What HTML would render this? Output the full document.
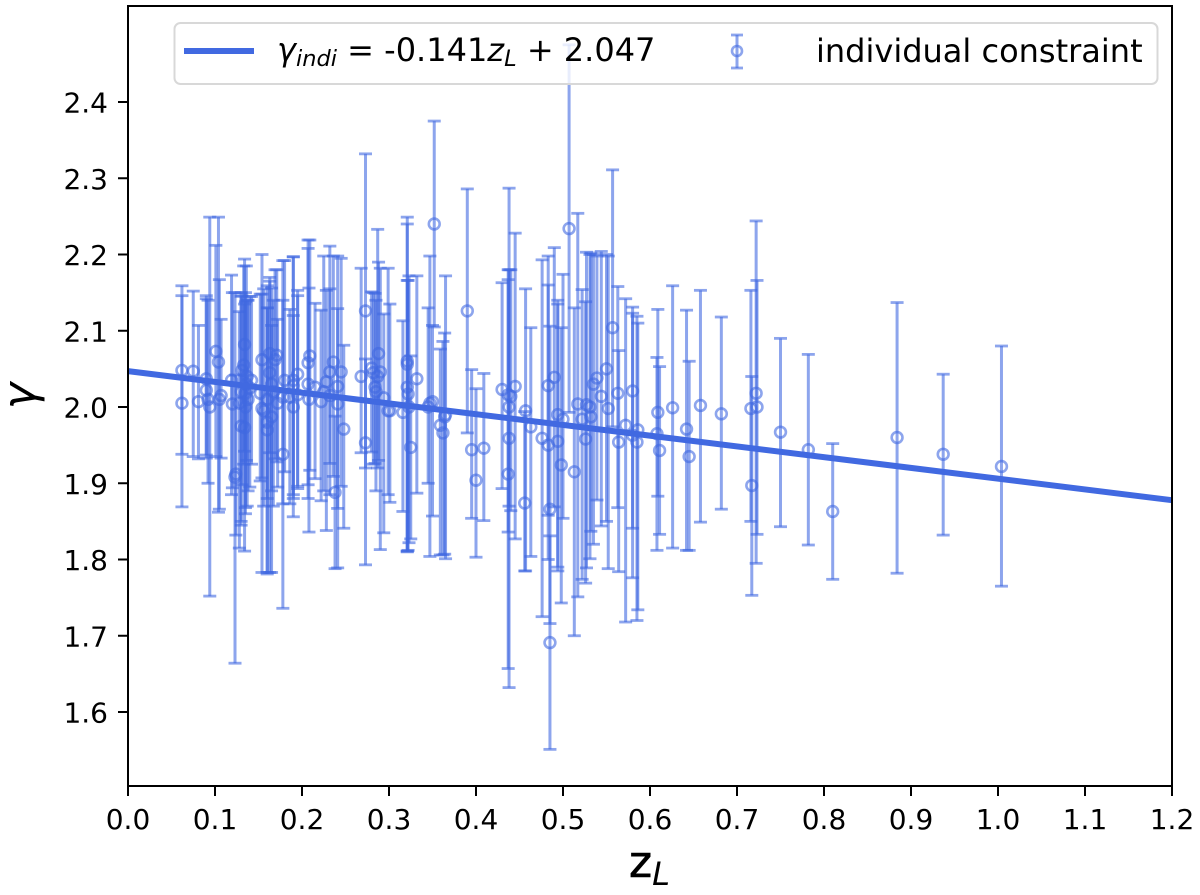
<!DOCTYPE html>
<html lang="en">
<head>
<meta charset="utf-8">
<title>Gamma versus lens redshift</title>
<style>
html,body{margin:0;padding:0;background:#fff;width:1200px;height:895px;overflow:hidden}
svg{display:block;font-family:"DejaVu Sans","Liberation Sans",sans-serif}
</style>
</head>
<body>
<svg id="chart" xmlns="http://www.w3.org/2000/svg" width="1200" height="895" viewBox="0 0 1200 895"></svg>
<script>
const zLens = [
 .062,.062,.075,.081,.090,.090,.092,.094,.101,.104,
 .105,.107,.119,.120,.123,.124,.128,.130,.130,.131,
 .133,.134,.134,.135,.135,.136,.137,.138,.140,.142,
 .152,.154,.154,.156,.160,.160,.160,.163,.163,.165,
 .165,.167,.169,.171,.172,.178,.178,.180,.186,.190,
 .190,.190,.195,.195,.207,.207,.208,.209,.215,.222,
 .225,.228,.232,.232,.236,.238,.241,.241,.245,.248,
 .268,.273,.273,.280,.282,.284,.285,.287,.288,.290,
 .294,.299,.301,.316,.321,.321,.321,.322,.323,.325,
 .332,.345,.347,.350,.352,.359,.362,.364,.365,.390,
 .395,.400,.409,.430,.437,.437,.438,.438,.440,.445,
 .456,.457,.463,.476,.483,.483,.485,.485,.490,.494,
 .494,.498,.500,.507,.513,.517,.522,.526,.527,.531,
 .532,.535,.539,.544,.550,.552,.557,.563,.564,.572,
 .580,.580,.585,.586,.608,.609,.611,.626,.642,.645,
 .658,.682,.716,.717,.722,.723,.750,.782,.810,.884,
 .937,1.004
];
const gammaValues = [
 2.048,2.005,2.047,2.007,2.037,2.022,2.010,2.000,2.073,2.059,
 2.010,2.015,2.035,2.004,1.908,1.912,2.005,2.020,1.975,2.048,
 2.055,2.082,1.973,2.018,2.000,2.030,2.040,2.010,2.025,2.035,
 2.018,2.062,1.998,1.995,1.980,1.970,2.010,2.070,2.045,1.987,
 2.030,2.020,2.062,2.068,2.005,1.938,2.013,2.035,2.013,2.035,
 2.028,2.000,2.043,2.016,2.058,2.030,2.010,2.067,2.026,2.007,
 2.020,2.033,2.046,2.015,2.059,1.888,2.027,2.004,2.046,1.971,
 2.040,2.126,1.953,2.051,2.045,2.026,2.020,2.040,2.070,2.046,
 2.012,1.995,1.995,1.993,2.060,2.056,2.026,2.017,2.000,1.947,
 2.037,2.000,2.005,2.007,2.240,1.976,1.966,1.987,1.990,2.126,
 1.944,1.904,1.946,2.023,1.912,2.016,2.000,1.959,2.014,2.027,
 1.874,1.995,1.974,1.959,2.028,1.950,1.866,1.691,2.039,1.990,
 1.955,1.924,1.984,2.234,1.915,2.004,1.984,1.958,2.003,2.000,
 1.987,2.030,2.038,2.014,2.050,1.998,2.104,2.018,1.954,1.976,
 2.021,1.963,1.954,1.970,1.965,1.993,1.943,1.999,1.971,1.935,
 2.002,1.991,1.998,1.897,2.018,2.000,1.967,1.944,1.863,1.960,
 1.938,1.922
];
const errorMinus = [
 .110,.136,.112,.075,.100,.089,.110,.248,.138,.197,
 .144,.082,.150,.110,.244,.080,.190,.170,.130,.150,
 .130,.140,.162,.150,.140,.100,.170,.120,.130,.110,
 .115,.155,.215,.125,.197,.189,.130,.130,.262,.204,
 .140,.150,.130,.140,.110,.202,.140,.120,.140,.150,
 .172,.120,.150,.120,.160,.150,.174,.150,.120,.130,
 .130,.195,.120,.130,.150,.100,.160,.215,.150,.130,
 .100,.206,.160,.110,.120,.100,.130,.120,.140,.233,
 .177,.110,.120,.130,.250,.245,.215,.205,.178,.120,
 .150,.100,.201,.150,.135,.170,.160,.180,.189,.160,
 .090,.101,.095,.130,.255,.180,.130,.327,.150,.200,
 .089,.210,.170,.234,.170,.150,.150,.140,.170,.200,
 .170,.181,.130,.241,.215,.253,.210,.189,.214,.199,
 .150,.210,.160,.170,.200,.210,.130,.150,.170,.258,
 .180,.187,.234,.236,.153,.110,.110,.184,.159,.123,
 .153,.125,.148,.144,.223,.167,.124,.125,.089,.178,
 .106,.157
];
const errorPlus = [
 .111,.141,.105,.100,.109,.120,.130,.249,.139,.190,
 .157,.100,.138,.146,.242,.130,.120,.130,.170,.098,
 .130,.112,.162,.120,.150,.155,.100,.130,.120,.110,
 .130,.138,.150,.160,.150,.189,.120,.100,.120,.120,
 .126,.120,.118,.112,.110,.202,.179,.157,.115,.162,
 .169,.120,.110,.130,.150,.189,.146,.152,.110,.120,
 .178,.120,.165,.140,.139,.100,.171,.125,.149,.110,
 .142,.206,.110,.100,.105,.123,.120,.193,.120,.136,
 .110,.187,.140,.120,.189,.184,.140,.149,.172,.120,
 .135,.130,.193,.100,.135,.100,.120,.110,.182,.160,
 .105,.120,.098,.140,.255,.164,.180,.328,.166,.201,
 .120,.160,.130,.234,.170,.210,.240,.140,.170,.150,
 .180,.180,.190,.241,.215,.250,.170,.180,.200,.200,
 .215,.170,.160,.190,.150,.200,.207,.140,.120,.166,
 .110,.160,.165,.140,.100,.135,.110,.160,.156,.125,
 .151,.127,.155,.143,.226,.166,.123,.125,.089,.177,
 .105,.158
];
const xTickValues = [0,0.1,0.2,0.3,0.4,0.5,0.6,0.7,0.8,0.9,1.0,1.1,1.2];
const yTickValues = [1.6,1.7,1.8,1.9,2.0,2.1,2.2,2.3,2.4];
const fitSlope = -0.141;
const fitIntercept = 2.047;

const NS = 'http://www.w3.org/2000/svg';
const svg = document.getElementById('chart');
const BLUE = '#4169e1';
const plot = {left:128, right:1172, top:6, bottom:786};
const xScale = z => plot.left + z * (plot.right - plot.left) / 1.2;
const yScale = g => 102 + (2.4 - g) * 762.5;

function make(tag, attrs, parent){
  const el = document.createElementNS(NS, tag);
  for (const k in attrs) el.setAttribute(k, attrs[k]);
  (parent || svg).appendChild(el);
  return el;
}
function lineAttrs(x1,y1,x2,y2,color,w,op){
  return {x1:x1,y1:y1,x2:x2,y2:y2,stroke:color,'stroke-width':w,'stroke-opacity':op===undefined?1:op};
}

const bg = make('rect',{x:plot.left,y:plot.top,width:plot.right-plot.left,height:plot.bottom-plot.top,fill:'#fff'});



const pointLayer = make('g',{});



zLens.forEach((z,i) => {
  const px = xScale(z), g = gammaValues[i];
  const y1 = yScale(g - errorMinus[i]), y2 = yScale(g + errorPlus[i]);
  const group = make('g',{},pointLayer);
  
  
  make('line',lineAttrs(px,y1,px,y2,BLUE,3,.6),group);
  make('line',lineAttrs(px-6.5,y1,px+6.5,y1,BLUE,2.8,.6),group);
  make('line',lineAttrs(px-6.5,y2,px+6.5,y2,BLUE,2.8,.6),group);
  make('circle',{cx:px,cy:yScale(g),r:5.4,fill:'none',stroke:BLUE,'stroke-width':2.6,'stroke-opacity':.6},group);
});

const fitLine = make('line',lineAttrs(xScale(0),yScale(fitIntercept),xScale(1.2),yScale(fitIntercept+fitSlope*1.2),BLUE,6));



const spines = make('rect',{x:plot.left,y:plot.top,width:plot.right-plot.left,height:plot.bottom-plot.top,fill:'none',stroke:'#000','stroke-width':2});



const xAxis = make('g',{});


xTickValues.forEach(v => {
  const px = xScale(v);
  const tick = make('line',lineAttrs(px,plot.bottom,px,plot.bottom+10,'#000',2),xAxis);
  
  
  const label = make('text',{x:px,y:829,'text-anchor':'middle','font-size':28,fill:'#000'},xAxis);
  
  
  label.textContent = v.toFixed(1);
});

const yAxis = make('g',{});


yTickValues.forEach(v => {
  const py = yScale(v);
  const tick = make('line',lineAttrs(plot.left-10,py,plot.left,py,'#000',2),yAxis);
  
  
  const label = make('text',{x:108,y:py+10.5,'text-anchor':'end','font-size':28,fill:'#000'},yAxis);
  
  
  label.textContent = v.toFixed(1);
});

const legendBox = make('rect',{x:174.5,y:23,width:983,height:61,rx:6,ry:6,fill:'#fff','fill-opacity':.8,stroke:'#d8d8d8','stroke-width':2});



const legendLine = make('line',lineAttrs(184,51,254,51,BLUE,6));



const legendMarker = make('g',{});


make('line',lineAttrs(737,35,737,68,BLUE,3,.6),legendMarker);
make('line',lineAttrs(731,35,743,35,BLUE,2.8,.6),legendMarker);
make('line',lineAttrs(731,68,743,68,BLUE,2.8,.6),legendMarker);
make('circle',{cx:737,cy:51,r:5,fill:'none',stroke:BLUE,'stroke-width':2.6,'stroke-opacity':.6},legendMarker);
</script>
<svg xmlns="http://www.w3.org/2000/svg" width="1200" height="895" viewBox="0 0 1200 895" style="position:absolute;left:0;top:0;pointer-events:none">
  <text x="277" y="61" font-size="32" fill="#000"><tspan font-style="italic">γ</tspan><tspan font-style="italic" font-size="22.5" dy="5">indi</tspan><tspan dy="-5"> = -0.141</tspan><tspan font-style="italic">z</tspan><tspan font-style="italic" font-size="22.5" dy="5">L</tspan><tspan dy="-5"> + 2.047</tspan></text>
  <text x="816" y="62" font-size="32" fill="#000">individual constraint</text>
  <text x="629" y="877" font-size="44" fill="#000" stroke="#000" stroke-width="0.6">z<tspan font-size="32" font-style="italic" stroke-width="0" dy="8">L</tspan></text>
  <text transform="translate(35,396) rotate(-90)" text-anchor="middle" font-size="45" font-style="italic" fill="#000">γ</text>
</svg>
</body>
</html>
